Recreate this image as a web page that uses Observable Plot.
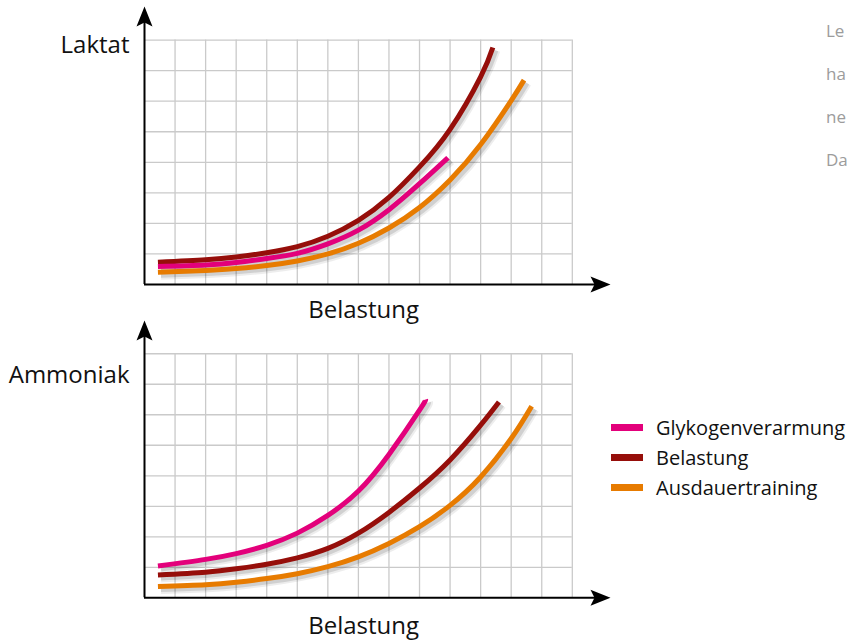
<!DOCTYPE html>
<html>
<head>
<meta charset="utf-8">
<script src="https://cdn.jsdelivr.net/npm/d3@7"></script>
<script src="https://cdn.jsdelivr.net/npm/@observablehq/plot@0.6"></script>
<style>
  body { margin: 0; background: #fff; font-family: "Open Sans", sans-serif; }
  #root { position: relative; width: 851px; height: 640px; overflow: hidden; }
  .chart { position: absolute; left: 0; }
  .legend { position: absolute; left: 611px; top: 412px; font-size: 20px; color: #111; }
  .legend .row { display: flex; align-items: center; height: 30px; }
  .legend .sw { width: 32px; height: 7px; margin-right: 13px; }
  .side { position: absolute; left: 826px; font-size: 17px; color: #9c9c9c; line-height: 20px; white-space: nowrap; }
</style>
</head>
<body>
<div id="root"></div>
<script>
// ---- data ----
const seriesNames = ["Glykogenverarmung", "Belastung", "Ausdauertraining"];
const seriesColors = ["#e3007b", "#960e0a", "#e77b00"];
const gridColumns = 14;
const gridRows = 8;
const xLabel = "Belastung";
const yLabels = ["Laktat", "Ammoniak"];
const sideTexts = ["Le", "ha", "ne", "Da"];

// Laktat chart (grid units)
const laktatGlykogenX = [0.44, 2, 3, 4, 5, 6, 7, 8, 9, 9.93];
const laktatGlykogenY = [0.59, 0.64, 0.72, 0.85, 1.02, 1.33, 1.78, 2.45, 3.3, 4.15];
const laktatBelastungX = [0.44, 2, 3, 4, 5, 6, 7, 8, 9, 10, 11, 11.4];
const laktatBelastungY = [0.73, 0.81, 0.9, 1.04, 1.24, 1.58, 2.1, 2.85, 3.85, 5.08, 6.8, 7.76];
const laktatAusdauerX = [0.44, 2, 3, 4, 5, 6, 7, 8, 9, 10, 11, 12, 12.42];
const laktatAusdauerY = [0.40, 0.46, 0.52, 0.62, 0.77, 1.0, 1.35, 1.85, 2.52, 3.42, 4.58, 6.02, 6.69];

// Ammoniak chart (grid units)
const ammGlykogenX = [0.44, 2, 3, 4, 5, 6, 7, 8, 9, 9.2];
const ammGlykogenY = [1.04, 1.26, 1.45, 1.72, 2.12, 2.7, 3.5, 4.7, 6.15, 6.5];
const ammBelastungX = [0.44, 2, 3, 4, 5, 6, 7, 8, 9, 10, 11, 11.6];
const ammBelastungY = [0.75, 0.84, 0.95, 1.1, 1.31, 1.62, 2.12, 2.8, 3.6, 4.52, 5.66, 6.42];
const ammAusdauerX = [0.44, 2, 3, 4, 5, 6, 7, 8, 9, 10, 11, 12, 12.67];
const ammAusdauerY = [0.37, 0.43, 0.51, 0.63, 0.79, 1.02, 1.34, 1.78, 2.33, 3.03, 3.96, 5.22, 6.28];

function toRows(xs, ys, s) { return xs.map((x, i) => ({x, y: ys[i], s})); }

const laktatData = [
  ...toRows(laktatBelastungX, laktatBelastungY, 1),
  ...toRows(laktatGlykogenX, laktatGlykogenY, 0),
  ...toRows(laktatAusdauerX, laktatAusdauerY, 2)
];
const ammData = [
  ...toRows(ammGlykogenX, ammGlykogenY, 0),
  ...toRows(ammBelastungX, ammBelastungY, 1),
  ...toRows(ammAusdauerX, ammAusdauerY, 2)
];

// arrowhead symbol, tip at origin pointing up
const arrowHead = {
  draw(ctx) {
    ctx.moveTo(0, 0);
    ctx.lineTo(8, 20);
    ctx.lineTo(0, 16);
    ctx.lineTo(-8, 20);
    ctx.closePath();
  }
};

function seriesMarks(data, s) {
  const rows = data.filter(d => d.s === s);
  const common = {x: "x", y: "y", curve: "natural", strokeLinecap: "butt"};
  return [
    Plot.line(rows, {...common, stroke: "#000", strokeOpacity: 0.07, strokeWidth: 9, dx: 3, dy: 3}),
    Plot.line(rows, {...common, stroke: "#000", strokeOpacity: 0.12, strokeWidth: 5, dx: 3, dy: 3}),
    Plot.line(rows, {...common, stroke: seriesColors[s], strokeWidth: 5})
  ];
}

function makeChart({data, label, labelY, xLabelY, height, marginTop, marginBottom, yMax}) {
  const xMax = 15.25;
  return Plot.plot({
    width: 620,
    height,
    marginLeft: 144,
    marginRight: 10,
    marginTop,
    marginBottom,
    x: {domain: [0, xMax], axis: null},
    y: {domain: [0, yMax], axis: null},
    style: {fontFamily: "Open Sans", background: "transparent", overflow: "visible"},
    marks: [
      Plot.ruleX(d3.range(1, gridColumns + 1), {y1: 0, y2: gridRows, stroke: "#cacaca", strokeWidth: 1.3}),
      Plot.ruleY(d3.range(1, gridRows + 1), {x1: 0, x2: gridColumns, stroke: "#cacaca", strokeWidth: 1.3}),
      ...[1, 0, 2].flatMap(s => seriesMarks(data, s)),
      Plot.ruleY([0], {x1: 0, x2: xMax - 0.4, stroke: "black", strokeWidth: 2}),
      Plot.ruleX([0], {y1: 0, y2: yMax - 0.4, stroke: "black", strokeWidth: 2}),
      Plot.dot([{x: 0, y: yMax}], {x: "x", y: "y", symbol: arrowHead, fill: "black", stroke: "none"}),
      Plot.dot([{x: xMax, y: 0}], {x: "x", y: "y", symbol: arrowHead, fill: "black", stroke: "none", rotate: 90}),
      Plot.text([label], {x: 0, y: labelY, dx: -15, text: d => d, textAnchor: "end", fontSize: 24, fill: "#111"}),
      Plot.text([xLabel], {x: 7.17, y: xLabelY, text: d => d, fontSize: 24, fill: "#111"})
    ]
  });
}

const root = document.getElementById("root");

const c1 = makeChart({data: laktatData, label: yLabels[0], labelY: 7.82, xLabelY: -0.86,
  height: 325, marginTop: 6, marginBottom: 41, yMax: 9.1});
c1.classList.add("chart");
c1.style.top = "0px";
root.appendChild(c1);

const c2 = makeChart({data: ammData, label: yLabels[1], labelY: 7.29, xLabelY: -0.92,
  height: 322, marginTop: 2, marginBottom: 42.7, yMax: 9.09});
c2.classList.add("chart");
c2.style.top = "318px";
root.appendChild(c2);

// legend
const legend = document.createElement("div");
legend.className = "legend";
seriesNames.forEach((name, i) => {
  const row = document.createElement("div");
  row.className = "row";
  const sw = document.createElement("div");
  sw.className = "sw";
  sw.style.background = seriesColors[i];
  const t = document.createElement("span");
  t.textContent = name;
  row.appendChild(sw);
  row.appendChild(t);
  legend.appendChild(row);
});
root.appendChild(legend);

// cropped side text
const sideTops = [21, 64, 107, 150];
sideTexts.forEach((s, i) => {
  const d = document.createElement("div");
  d.className = "side";
  d.style.top = sideTops[i] + "px";
  d.textContent = s;
  root.appendChild(d);
});
</script>
</body>
</html>
